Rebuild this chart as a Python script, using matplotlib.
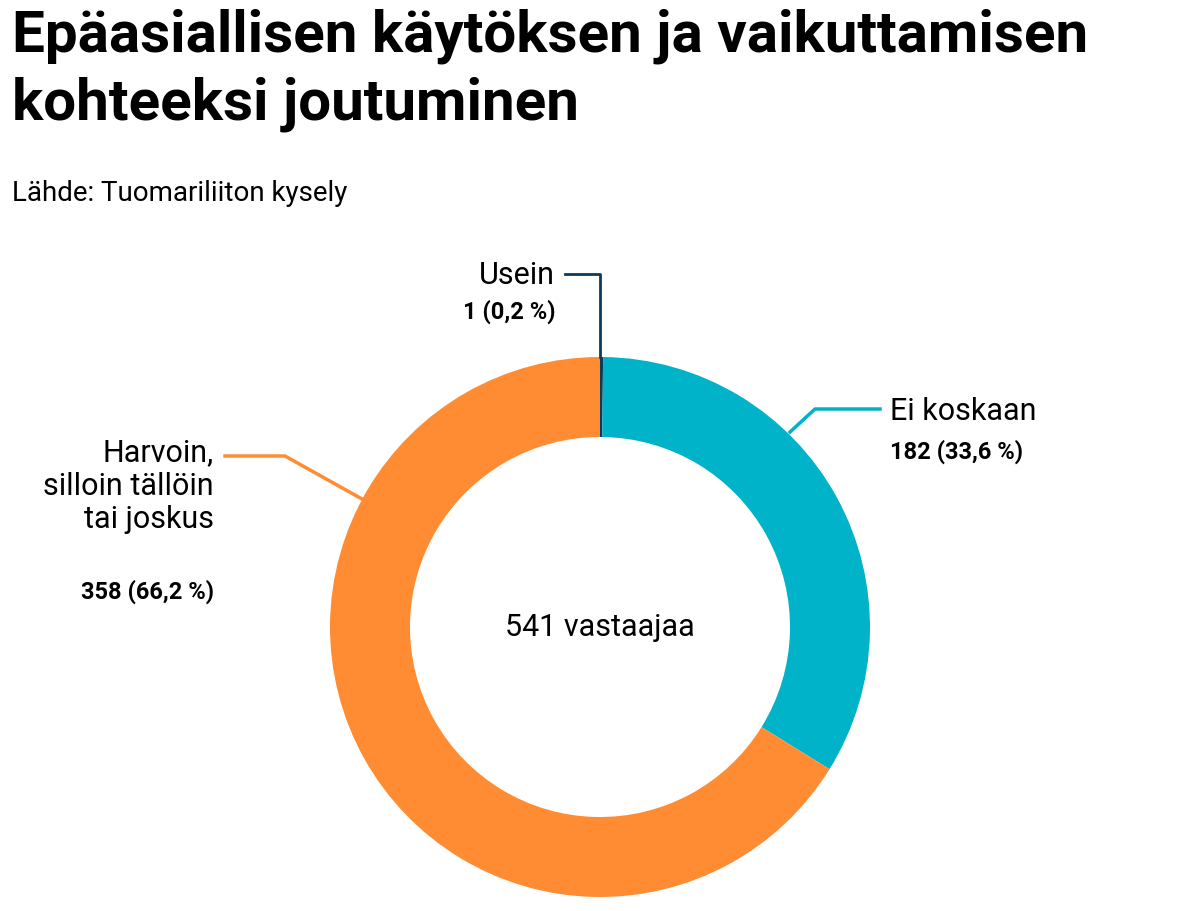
import matplotlib.pyplot as plt
import numpy as np

labels = ["Usein", "Ei koskaan", "Harvoin,\nsilloin tällöin\ntai joskus"]
counts = [1, 182, 358]
pct_labels = ["1 (0,2 %)", "182 (33,6 %)", "358 (66,2 %)"]
colors = ["#0d3b5e", "#00b3c8", "#ff8c32"]
total_text = "541 vastaajaa"

W, H = 1199, 912
fig = plt.figure(figsize=(W / 100, H / 100), dpi=100)
ax = fig.add_axes([0, 0, 1, 1])

font = "Roboto"
cx, cy, r = 600, H - 628, 270
ax.pie(counts, colors=colors, startangle=90, counterclock=False,
       center=(cx, cy), radius=r, wedgeprops=dict(width=80, linewidth=0))
ax.set_xlim(0, W)
ax.set_ylim(0, H)
ax.set_aspect("equal")
ax.axis("off")
ax.text(cx, cy, total_text, ha="center", va="center", fontsize=22, family=font)

fig.text(12 / W, 1 - 8 / H, "Epäasiallisen käytöksen ja vaikuttamisen\nkohteeksi joutuminen",
         ha="left", va="top", fontsize=42, fontweight="bold", family=font, linespacing=1.3)
fig.text(12 / W, 1 - 180 / H, "Lähde: Tuomariliiton kysely", ha="left", va="top",
         fontsize=20, family=font)

def y(v):
    return H - v

# leader lines
ax.plot([600, 600, 565], [y(358), y(275), y(275)], color=colors[0], lw=2)
ax.plot([790, 815, 880], [y(433), y(410), y(410)], color=colors[1], lw=2.5)
ax.plot([362, 285, 225], [y(500), y(457), y(457)], color=colors[2], lw=2.5)

ax.text(555, y(275), labels[0], ha="right", va="center", fontsize=22, family=font)
ax.text(555, y(312), pct_labels[0], ha="right", va="center", fontsize=17,
        fontweight="bold", family=font)
ax.text(890, y(412), labels[1], ha="left", va="center", fontsize=22, family=font)
ax.text(890, y(452), pct_labels[1], ha="left", va="center", fontsize=17,
        fontweight="bold", family=font)
ax.text(214, y(438), labels[2], ha="right", va="top", fontsize=22, family=font,
        linespacing=1.2)
ax.text(214, y(592), pct_labels[2], ha="right", va="center", fontsize=17,
        fontweight="bold", family=font)

fig.savefig("out.png", dpi=100, facecolor="white")
